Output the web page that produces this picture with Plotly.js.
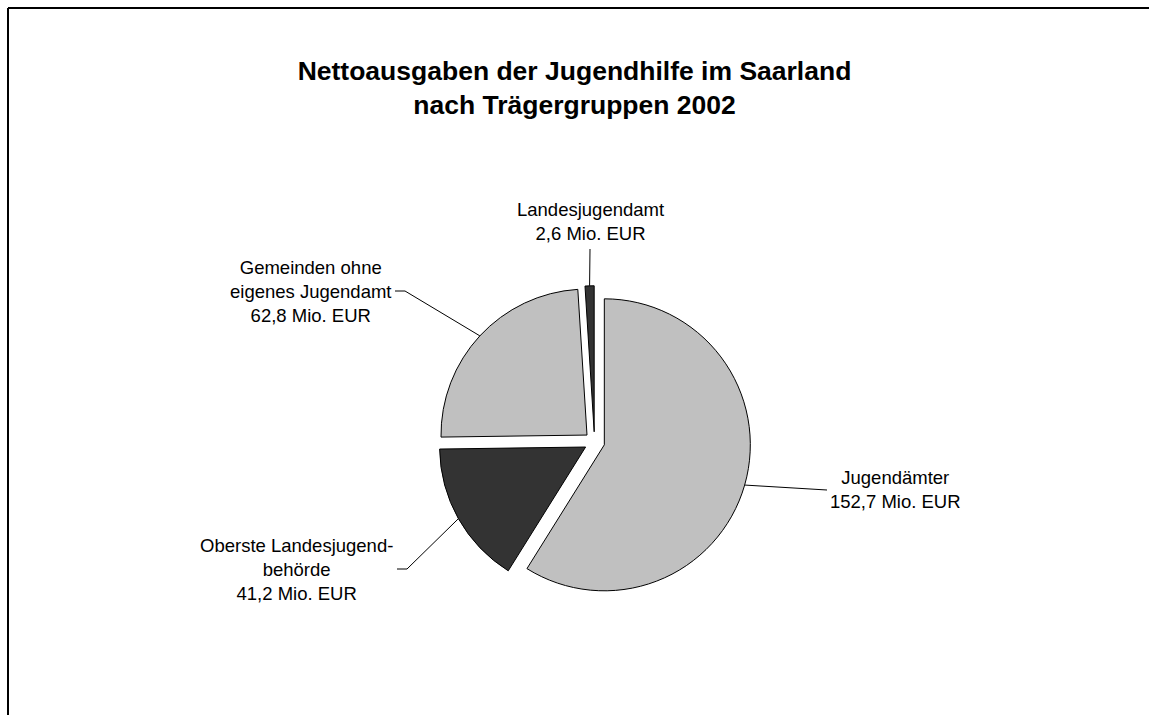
<!DOCTYPE html>
<html>
<head>
<meta charset="utf-8">
<script src="https://cdn.plot.ly/plotly-3.0.1.min.js"></script>
<style>html,body{margin:0;padding:0;background:#fff;}#chart{width:1149px;height:715px;}</style>
</head>
<body>
<div id="chart"></div>
<script>
// ---- data ----
const categories = ["Jugendämter", "Oberste Landesjugendbehörde", "Gemeinden ohne eigenes Jugendamt", "Landesjugendamt"];
const labelTexts = ["Jugendämter", "Oberste Landesjugend-<br>behörde", "Gemeinden ohne<br>eigenes Jugendamt", "Landesjugendamt"];
const values = [152.7, 41.2, 62.8, 2.6];
const colors = ["#C0C0C0", "#333333", "#C0C0C0", "#333333"];
const unit = "Mio. EUR";
const titleText = "Nettoausgaben der Jugendhilfe im Saarland<br>nach Trägergruppen 2002";

// ---- layout constants (pixels) ----
const W = 1149, H = 715;
const cx = 594.5, cy = 442, R = 146, PULL = 0.07;
const size = 2 * R * (1 + PULL);
const labelCenters = [[895, 489], [296, 569], [310, 291], [590.5, 222]];
const leaderEnds = [[[827, 490]], [[407, 569], [397, 569]], [[405, 291], [395, 291]], [[590, 249]]];

const px = x => x / W;
const py = y => 1 - y / H;

// leader lines start at each slice's outer edge at its mid-angle (computed from data)
const total = values.reduce((a, b) => a + b, 0);
const shapes = [];
let cum = 0;
values.forEach((v, i) => {
  const mid = (cum + v / 2) / total * 2 * Math.PI;
  cum += v;
  const d = R * (1 + PULL);
  let x0 = cx + d * Math.sin(mid), y0 = cy - d * Math.cos(mid);
  leaderEnds[i].forEach(([x1, y1]) => {
    shapes.push({type: 'line', xref: 'paper', yref: 'paper', x0: px(x0), y0: py(y0), x1: px(x1), y1: py(y1),
      line: {color: '#000', width: 1}});
    x0 = x1; y0 = y1;
  });
});
// chart frame (left and top edges visible)
shapes.push({type: 'line', xref: 'paper', yref: 'paper', x0: px(8), y0: py(8), x1: px(W), y1: py(8), line: {color: '#000', width: 2}});
shapes.push({type: 'line', xref: 'paper', yref: 'paper', x0: px(8), y0: py(8), x1: px(8), y1: py(H), line: {color: '#000', width: 2}});

const annotations = categories.map((c, i) => ({
  xref: 'paper', yref: 'paper', x: px(labelCenters[i][0]), y: py(labelCenters[i][1]),
  xanchor: 'center', yanchor: 'middle', align: 'center', showarrow: false,
  text: labelTexts[i] + '<br>' + values[i].toFixed(1).replace('.', ',') + ' ' + unit,
  font: {family: 'Liberation Sans, Arial, sans-serif', size: 18.5, color: '#000'}
}));

const trace = {
  type: 'pie',
  labels: categories,
  values: values,
  sort: false,
  direction: 'clockwise',
  rotation: 0,
  pull: values.map(() => PULL),
  marker: {colors: colors, line: {color: '#000', width: 1}},
  textinfo: 'none',
  hoverinfo: 'skip',
  showlegend: false,
  domain: {
    x: [px(cx - size / 2 - 40), px(cx + size / 2 + 40)],
    y: [py(cy + size / 2), py(cy - size / 2)]
  }
};

const layout = {
  width: W, height: H,
  margin: {l: 0, r: 0, t: 0, b: 0},
  paper_bgcolor: '#fff',
  showlegend: false,
  title: {
    text: titleText,
    x: 0.5, xanchor: 'center',
    y: py(80), yref: 'container', yanchor: 'middle',
    font: {family: 'Liberation Sans, Arial, sans-serif', size: 26.5, color: '#000', weight: 'bold'}
  },
  shapes: shapes,
  annotations: annotations
};

Plotly.newPlot('chart', [trace], layout, {displayModeBar: false, staticPlot: true});
</script>
</body>
</html>
